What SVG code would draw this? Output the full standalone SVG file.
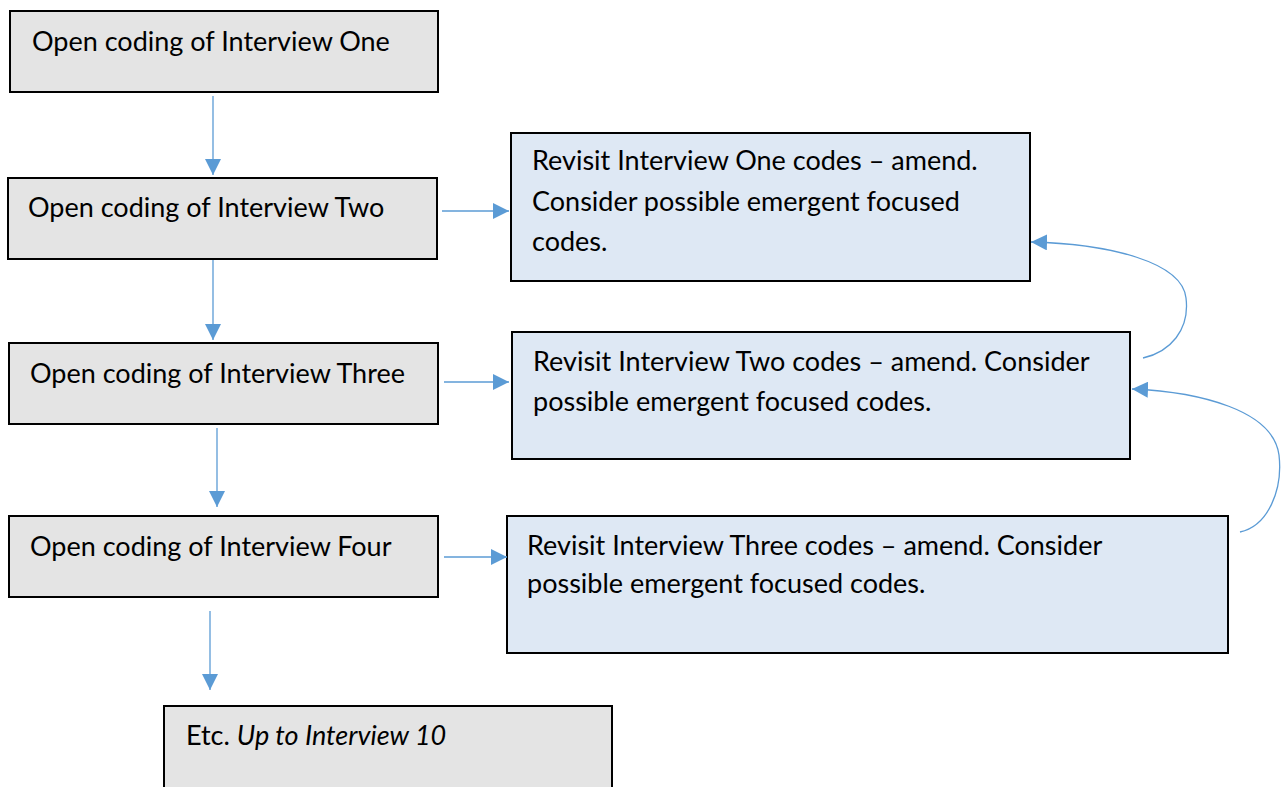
<svg xmlns="http://www.w3.org/2000/svg" width="1283" height="787" viewBox="0 0 1283 787">
<style>
.g{fill:#e4e4e4;stroke:#000;stroke-width:2}
.b{fill:#dee8f4;stroke:#000;stroke-width:2}
.t{font-family:Lato,"Open Sans",sans-serif;font-size:27px;fill:#000}
.c{fill:none;stroke:#5b9bd5;stroke-width:1.3}
</style>
<defs>
<marker id="ah" viewBox="0 0 10 10" refX="10" refY="5" markerWidth="16" markerHeight="16" markerUnits="userSpaceOnUse" orient="auto">
<path d="M0,0 L10,5 L0,10 z" fill="#5b9bd5"/>
</marker>
</defs>
<rect width="1283" height="787" fill="#fff"/>
<g id="n1"><rect class="g" x="10" y="11" width="428" height="81"/><text class="t" x="32" y="51">Open coding of Interview One</text></g>
<g id="n2"><rect class="g" x="8" y="178" width="429" height="81"/><text class="t" x="28" y="217">Open coding of Interview Two</text></g>
<g id="n3"><rect class="g" x="9" y="343" width="429" height="81"/><text class="t" x="30" y="383">Open coding of Interview Three</text></g>
<g id="n4"><rect class="g" x="9" y="516" width="429" height="81"/><text class="t" x="30" y="556">Open coding of Interview Four</text></g>
<g id="n5"><rect class="g" x="164" y="706" width="448" height="90"/><text class="t" x="186" y="745">Etc. <tspan font-style="italic">Up to Interview 10</tspan></text></g>
<g id="r1"><rect class="b" x="511" y="133" width="519" height="148"/><text class="t" x="532" y="170">Revisit Interview One codes – amend.</text><text class="t" x="532" y="211">Consider possible emergent focused</text><text class="t" x="532" y="251">codes.</text></g>
<g id="r2"><rect class="b" x="512" y="332" width="618" height="127"/><text class="t" x="533" y="371">Revisit Interview Two codes – amend. Consider</text><text class="t" x="533" y="411">possible emergent focused codes.</text></g>
<g id="r3"><rect class="b" x="507" y="516" width="721" height="137"/><text class="t" x="527" y="555">Revisit Interview Three codes – amend. Consider</text><text class="t" x="527" y="593">possible emergent focused codes.</text></g>
<g id="connectors">
<line class="c" x1="213" y1="96" x2="213" y2="175" marker-end="url(#ah)"/>
<line class="c" x1="213" y1="260" x2="213" y2="340" marker-end="url(#ah)"/>
<line class="c" x1="217" y1="428" x2="217" y2="507" marker-end="url(#ah)"/>
<line class="c" x1="210" y1="611" x2="210" y2="690" marker-end="url(#ah)"/>
<line class="c" x1="442" y1="211" x2="509" y2="211" marker-end="url(#ah)"/>
<line class="c" x1="444" y1="382" x2="509" y2="382" marker-end="url(#ah)"/>
<line class="c" x1="444" y1="557" x2="507" y2="557" marker-end="url(#ah)"/>
<path class="c" d="M1143,358 C1170,352 1190,330 1186,298 C1182,262 1110,244 1031,242" marker-end="url(#ah)"/>
<path class="c" d="M1240,532 C1268,526 1283,490 1279,455 C1273,410 1200,392 1132,389" marker-end="url(#ah)"/>
</g>
</svg>
